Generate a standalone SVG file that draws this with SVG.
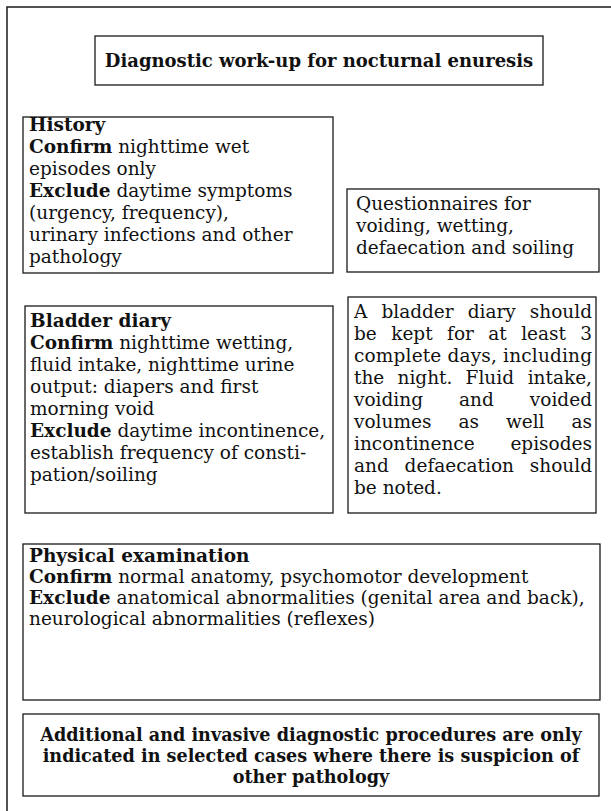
<svg xmlns="http://www.w3.org/2000/svg" width="611" height="811" viewBox="0 0 611 811">
<style>
.box{fill:#fff;stroke:#1a1a1a;stroke-width:1.3}
.frame{fill:none;stroke:#1a1a1a;stroke-width:1.5}
text{font-family:"DejaVu Serif","Liberation Serif",serif;font-size:18.5px;fill:#111}
.b{font-weight:bold}
.c{text-anchor:middle}
.e{text-anchor:end}
.t{font-size:18px}
.f{font-size:17.6px}
</style>
<rect width="611" height="811" fill="#fff"/>
<path class="frame" d="M7,811 V7 H611"/>
<g id="connectors"></g>
<g id="title">
<rect class="box" x="95" y="36" width="448" height="49"/>
<text class="b c t" x="319" y="67">Diagnostic work-up for nocturnal enuresis</text>
</g>
<g id="history">
<rect class="box" x="23" y="117" width="310" height="156"/>
<text x="29" y="131" class="b">History</text>
<text x="29" y="153"><tspan class="b">Confirm</tspan> nighttime wet</text>
<text x="29" y="175">episodes only</text>
<text x="29" y="197"><tspan class="b">Exclude</tspan> daytime symptoms</text>
<text x="29" y="219">(urgency, frequency),</text>
<text x="29" y="241">urinary infections and other</text>
<text x="29" y="263">pathology</text>
</g>
<g id="questionnaires">
<rect class="box" x="347" y="189" width="252" height="83"/>
<text x="356" y="210">Questionnaires for</text>
<text x="356" y="232">voiding, wetting,</text>
<text x="356" y="254">defaecation and soiling</text>
</g>
<g id="bladder-diary">
<rect class="box" x="25" y="306" width="308" height="207"/>
<text x="30" y="327" class="b">Bladder diary</text>
<text x="30" y="349"><tspan class="b">Confirm</tspan> nighttime wetting,</text>
<text x="30" y="371">fluid intake, nighttime urine</text>
<text x="30" y="393">output: diapers and first</text>
<text x="30" y="415">morning void</text>
<text x="30" y="437"><tspan class="b">Exclude</tspan> daytime incontinence,</text>
<text x="30" y="459">establish frequency of consti-</text>
<text x="30" y="481">pation/soiling</text>
</g>
<g id="diary-note">
<rect class="box" x="348" y="297" width="248" height="216"/>
<text y="318"><tspan x="354">A</tspan> <tspan x="381.4">bladder</tspan> <tspan x="467.7">diary</tspan> <tspan x="592" class="e">should</tspan></text>
<text y="340"><tspan x="354">be</tspan> <tspan x="391.2">kept</tspan> <tspan x="447.1">for</tspan> <tspan x="488.3">at</tspan> <tspan x="521.2">least</tspan> <tspan x="592" class="e">3</tspan></text>
<text y="362" x="354" textLength="238" lengthAdjust="spacing">complete days, including</text>
<text y="384"><tspan x="354">the</tspan> <tspan x="397.5">night.</tspan> <tspan x="465.6">Fluid</tspan> <tspan x="592" class="e">intake,</tspan></text>
<text y="406"><tspan x="354">voiding</tspan> <tspan x="459">and</tspan> <tspan x="592" class="e">voided</tspan></text>
<text y="428"><tspan x="354">volumes</tspan> <tspan x="458.4">as</tspan> <tspan x="505.9">well</tspan> <tspan x="592" class="e">as</tspan></text>
<text y="450"><tspan x="354">incontinence</tspan> <tspan x="592" class="e">episodes</tspan></text>
<text y="472"><tspan x="354">and</tspan> <tspan x="404.6">defaecation</tspan> <tspan x="592" class="e">should</tspan></text>
<text y="494" x="354">be noted.</text>
</g>
<g id="physical-exam">
<rect class="box" x="23" y="544" width="577" height="156"/>
<text x="29" y="562" class="b">Physical examination</text>
<text x="29" y="583"><tspan class="b">Confirm</tspan> normal anatomy, psychomotor development</text>
<text x="29" y="604"><tspan class="b">Exclude</tspan> anatomical abnormalities (genital area and back),</text>
<text x="29" y="625">neurological abnormalities (reflexes)</text>
</g>
<g id="additional">
<rect class="box" x="23" y="714" width="576" height="82"/>
<text class="b c f" x="311" y="741">Additional and invasive diagnostic procedures are only</text>
<text class="b c f" x="311" y="762">indicated in selected cases where there is suspicion of</text>
<text class="b c f" x="311" y="783">other pathology</text>
</g>
</svg>
